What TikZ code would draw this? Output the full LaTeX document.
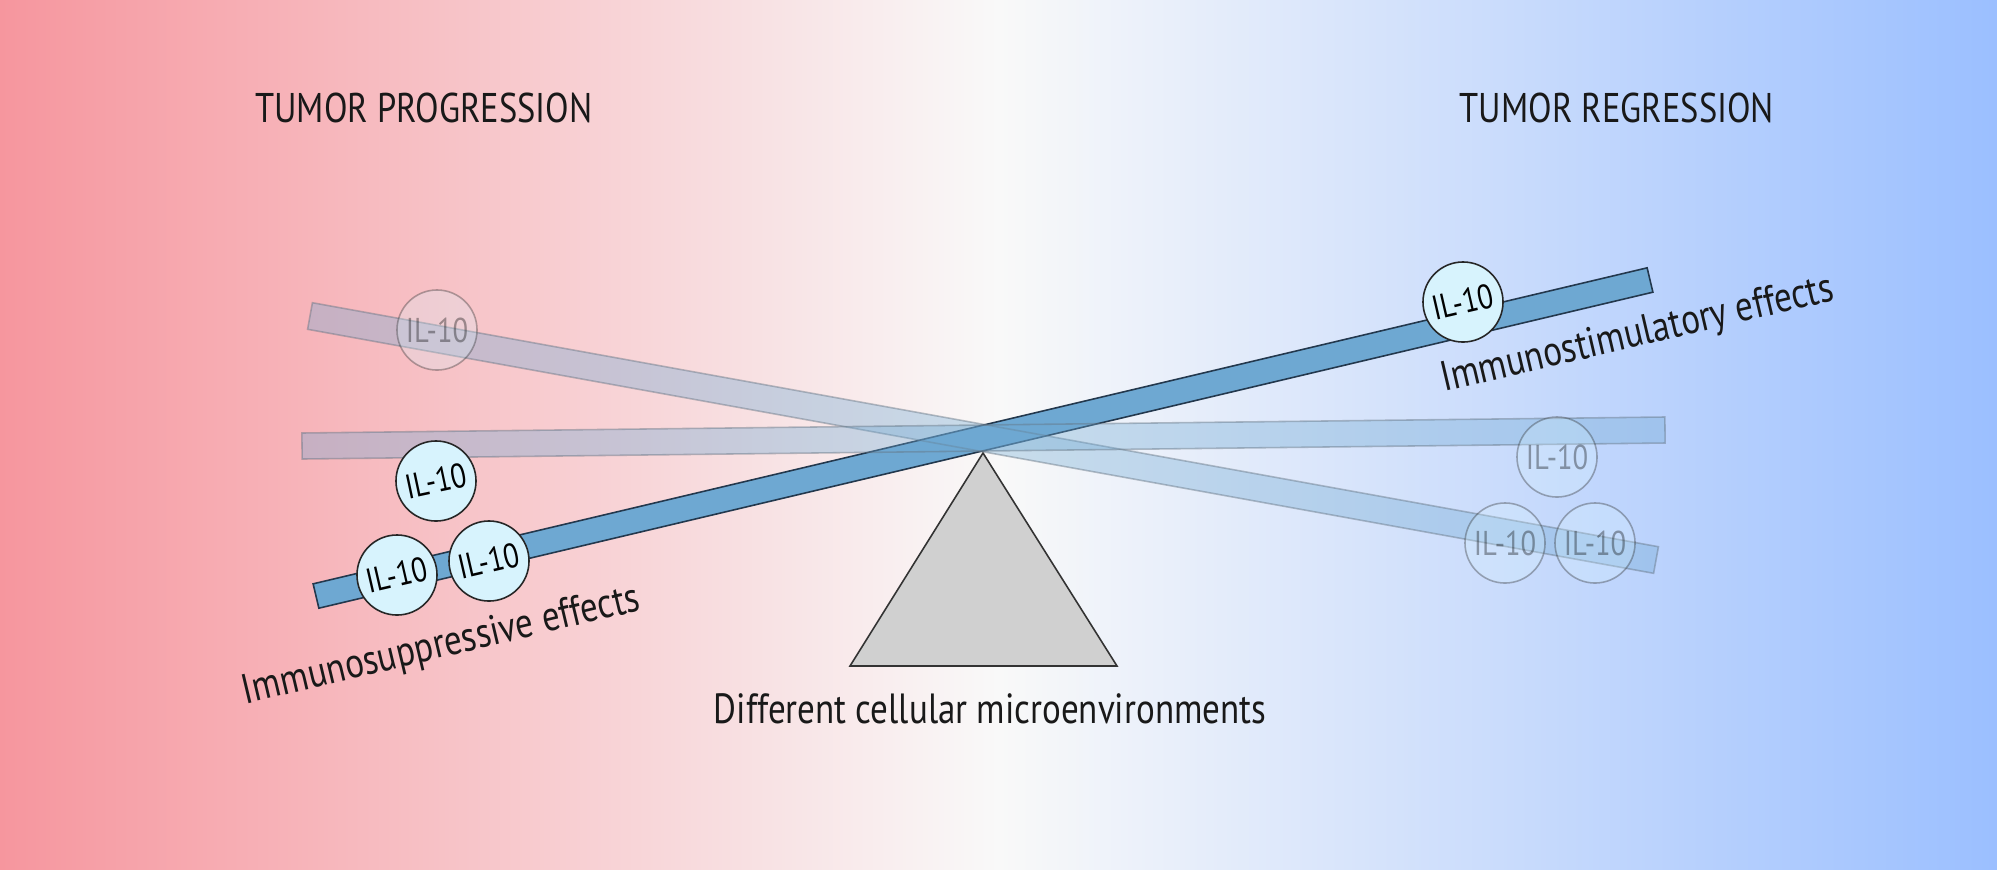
\documentclass[tikz,border=0pt]{standalone}
\usepackage{fontspec}
\setmainfont[FakeStretch=0.83]{PT Sans}
\usetikzlibrary{calc}
\definecolor{bgleft}{RGB}{246,150,158}
\definecolor{bgmid}{RGB}{249,249,249}
\definecolor{bgright}{RGB}{155,191,255}
\definecolor{plankblue}{RGB}{110,168,210}
\definecolor{plankedge}{RGB}{35,56,77}
\definecolor{cellfill}{RGB}{215,243,253}
\definecolor{fulcrumgray}{RGB}{208,208,208}
\tikzset{
  plank/.style={fill=plankblue, draw=plankedge, line width=0.45pt},
  ghostplank/.style={fill=plankblue, fill opacity=0.35, draw=plankedge!70, draw opacity=0.45, line width=0.45pt},
  cell/.style={circle, minimum size=0.8cm, inner sep=0pt, fill=cellfill, draw=black!85,
    line width=0.45pt, font=\fontsize{9.8}{12}\selectfont},
  ghostcell/.style={cell, fill opacity=0.25, draw opacity=0.35, text opacity=0.35},
  heading/.style={anchor=base, text=black!90, font=\fontsize{11.8}{14}\selectfont},
  effecttext/.style={anchor=base, text=black!90, font=\fontsize{12}{14}\selectfont},
}
% plank between two points: #1 style, #2 start, #3 end, #4 half thickness
\newcommand\drawplank[4]{%
  \draw[#1] ($(#2)!#4!90:(#3)$) -- ($(#2)!#4!-90:(#3)$)
    -- ($(#3)!#4!90:(#2)$) -- ($(#3)!#4!-90:(#2)$) -- cycle;}
\begin{document}
\begin{tikzpicture}[x=0.01cm, y=-0.01cm]
    \useasboundingbox (0,0) rectangle (1997,869);
    \shade[left color=bgleft, right color=bgright, middle color=bgmid] (0,0) rectangle (1997,869);

    \coordinate (P) at (983,438);
    \coordinate (up1) at (316,596);    \coordinate (up2) at (1650,280);
    \coordinate (dn1) at (310,316);    \coordinate (dn2) at (1656,560);
    \coordinate (lv1) at (302,446);    \coordinate (lv2) at (1665,430);

    % fulcrum
    \draw[fill=fulcrumgray, draw=black!80, line width=0.45pt] (983,453) -- (1117,666) -- (850,666) -- cycle;

    % planks
    \drawplank{plank}{up1}{up2}{0.125cm}
    \drawplank{ghostplank}{dn1}{dn2}{0.135cm}
    \drawplank{ghostplank}{lv1}{lv2}{0.13cm}

    % IL-10 molecules
    \node[ghostcell] (f1) at (437,330) {IL-10};
    \node[ghostcell] (f2) at (1557,457) {IL-10};
    \node[ghostcell] (f3) at (1505,543) {IL-10};
    \node[ghostcell] (f4) at (1595,543) {IL-10};
    \node[cell] (s1) at (436,481) {\rotatebox{12}{IL-10}};
    \node[cell] (s2) at (397,575) {\rotatebox{13}{IL-10}};
    \node[cell] (s3) at (489,561) {\rotatebox{13}{IL-10}};
    \node[cell] (s4) at (1463,302) {\rotatebox{13}{IL-10}};

    % texts
    \node[heading] (prog) at (424,122) {TUMOR PROGRESSION};
    \node[heading] (regr) at (1617,122) {TUMOR REGRESSION};
    \node[effecttext, rotate=13.4] (supp) at (444,657) {Immunosuppressive effects};
    \node[effecttext, rotate=13.2] (stim) at (1640,346) {Immunostimulatory effects};
    \node[effecttext] (micro) at (990,723) {Different cellular microenvironments};
\end{tikzpicture}
\end{document}
